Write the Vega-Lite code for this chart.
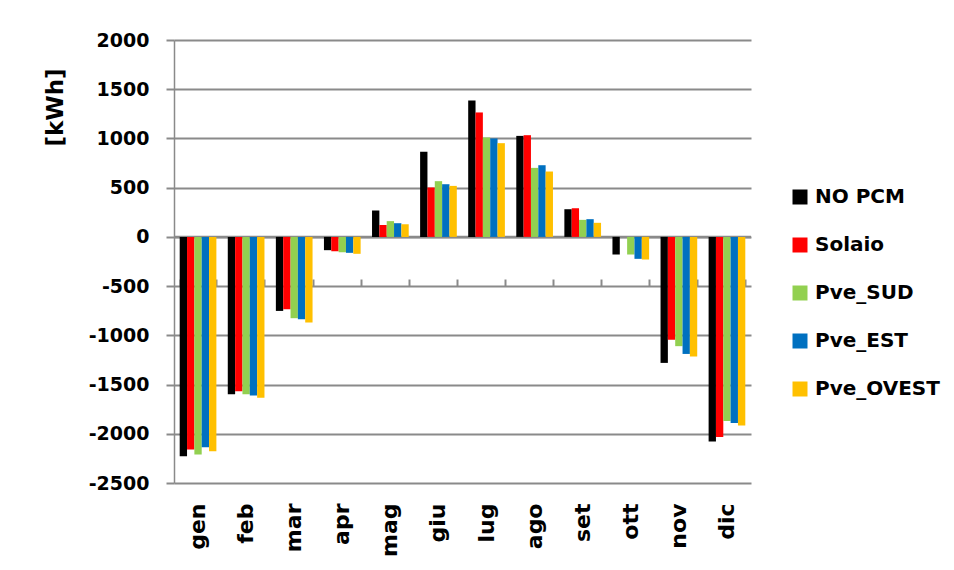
{
  "$schema": "https://vega.github.io/schema/vega-lite/v6.json",
  "width": 577,
  "height": 443,
  "autosize": {"type": "none"},
  "padding": {"left": 174, "top": 40, "right": 203, "bottom": 87},
  "background": "white",
  "config": {"view": {"stroke": null}, "font": "DejaVu Sans"},
  "datasets": {
    "zero": [{"kWh": 0}],
    "energia": [
      {"mese": "gen", "serie": "NO PCM", "kWh": -2228},
      {"mese": "gen", "serie": "Solaio", "kWh": -2160},
      {"mese": "gen", "serie": "Pve_SUD", "kWh": -2211},
      {"mese": "gen", "serie": "Pve_EST", "kWh": -2137},
      {"mese": "gen", "serie": "Pve_OVEST", "kWh": -2177},
      {"mese": "feb", "serie": "NO PCM", "kWh": -1598},
      {"mese": "feb", "serie": "Solaio", "kWh": -1568},
      {"mese": "feb", "serie": "Pve_SUD", "kWh": -1598},
      {"mese": "feb", "serie": "Pve_EST", "kWh": -1612},
      {"mese": "feb", "serie": "Pve_OVEST", "kWh": -1635},
      {"mese": "mar", "serie": "NO PCM", "kWh": -752},
      {"mese": "mar", "serie": "Solaio", "kWh": -735},
      {"mese": "mar", "serie": "Pve_SUD", "kWh": -826},
      {"mese": "mar", "serie": "Pve_EST", "kWh": -836},
      {"mese": "mar", "serie": "Pve_OVEST", "kWh": -870},
      {"mese": "apr", "serie": "NO PCM", "kWh": -135},
      {"mese": "apr", "serie": "Solaio", "kWh": -145},
      {"mese": "apr", "serie": "Pve_SUD", "kWh": -155},
      {"mese": "apr", "serie": "Pve_EST", "kWh": -162},
      {"mese": "apr", "serie": "Pve_OVEST", "kWh": -172},
      {"mese": "mag", "serie": "NO PCM", "kWh": 268},
      {"mese": "mag", "serie": "Solaio", "kWh": 122},
      {"mese": "mag", "serie": "Pve_SUD", "kWh": 160},
      {"mese": "mag", "serie": "Pve_EST", "kWh": 139},
      {"mese": "mag", "serie": "Pve_OVEST", "kWh": 129},
      {"mese": "giu", "serie": "NO PCM", "kWh": 864},
      {"mese": "giu", "serie": "Solaio", "kWh": 502},
      {"mese": "giu", "serie": "Pve_SUD", "kWh": 566},
      {"mese": "giu", "serie": "Pve_EST", "kWh": 535},
      {"mese": "giu", "serie": "Pve_OVEST", "kWh": 518},
      {"mese": "lug", "serie": "NO PCM", "kWh": 1386},
      {"mese": "lug", "serie": "Solaio", "kWh": 1264},
      {"mese": "lug", "serie": "Pve_SUD", "kWh": 1010},
      {"mese": "lug", "serie": "Pve_EST", "kWh": 1000},
      {"mese": "lug", "serie": "Pve_OVEST", "kWh": 952},
      {"mese": "ago", "serie": "NO PCM", "kWh": 1026},
      {"mese": "ago", "serie": "Solaio", "kWh": 1033},
      {"mese": "ago", "serie": "Pve_SUD", "kWh": 701},
      {"mese": "ago", "serie": "Pve_EST", "kWh": 728},
      {"mese": "ago", "serie": "Pve_OVEST", "kWh": 664},
      {"mese": "set", "serie": "NO PCM", "kWh": 281},
      {"mese": "set", "serie": "Solaio", "kWh": 291},
      {"mese": "set", "serie": "Pve_SUD", "kWh": 173},
      {"mese": "set", "serie": "Pve_EST", "kWh": 180},
      {"mese": "set", "serie": "Pve_OVEST", "kWh": 143},
      {"mese": "ott", "serie": "NO PCM", "kWh": -179},
      {"mese": "ott", "serie": "Solaio", "kWh": 0},
      {"mese": "ott", "serie": "Pve_SUD", "kWh": -179},
      {"mese": "ott", "serie": "Pve_EST", "kWh": -223},
      {"mese": "ott", "serie": "Pve_OVEST", "kWh": -230},
      {"mese": "nov", "serie": "NO PCM", "kWh": -1280},
      {"mese": "nov", "serie": "Solaio", "kWh": -1046},
      {"mese": "nov", "serie": "Pve_SUD", "kWh": -1110},
      {"mese": "nov", "serie": "Pve_EST", "kWh": -1189},
      {"mese": "nov", "serie": "Pve_OVEST", "kWh": -1216},
      {"mese": "dic", "serie": "NO PCM", "kWh": -2079},
      {"mese": "dic", "serie": "Solaio", "kWh": -2032},
      {"mese": "dic", "serie": "Pve_SUD", "kWh": -1869},
      {"mese": "dic", "serie": "Pve_EST", "kWh": -1890},
      {"mese": "dic", "serie": "Pve_OVEST", "kWh": -1917}
    ]
  },
  "resolve": {"axis": {"x": "independent"}},
  "layer": [
    {
      "data": {"name": "zero"},
      "mark": {"type": "rule", "color": "#8a8a8a", "strokeWidth": 2.5},
      "encoding": {
        "y": {"field": "kWh", "type": "quantitative", "scale": {"domain": [-2500, 2000], "nice": false, "zero": false}}
      }
    },
    {
      "data": {"name": "energia"},
      "mark": {"type": "bar"},
      "encoding": {
        "x": {
          "field": "mese",
          "type": "nominal",
          "sort": ["gen", "feb", "mar", "apr", "mag", "giu", "lug", "ago", "set", "ott", "nov", "dic"],
          "scale": {"paddingInner": 0.237, "paddingOuter": 0.1185},
          "axis": {
            "title": null,
            "domain": false,
            "ticks": false,
            "labelAngle": -90,
            "labelAlign": "right",
            "labelBaseline": "middle",
            "labelFont": "DejaVu Sans",
            "labelFontWeight": "bold",
            "labelFontSize": 22,
            "labelColor": "black",
            "labelPadding": 20
          }
        },
        "xOffset": {
          "field": "serie",
          "type": "nominal",
          "sort": ["NO PCM", "Solaio", "Pve_SUD", "Pve_EST", "Pve_OVEST"],
          "scale": {"paddingInner": 0, "paddingOuter": 0}
        },
        "y": {
          "field": "kWh",
          "type": "quantitative",
          "axis": {
            "values": [-2500, -2000, -1500, -1000, -500, 0, 500, 1000, 1500, 2000],
            "labelExpr": "'' + datum.value",
            "title": "[kWh]",
            "titleFont": "DejaVu Sans",
            "titleFontWeight": "bold",
            "titleFontSize": 23,
            "titleColor": "black",
            "titleAngle": -90,
            "titleAlign": "center",
            "titleBaseline": "middle",
            "titleX": -119,
            "titleY": 67,
            "domainColor": "#8a8a8a",
            "domainWidth": 1.5,
            "tickColor": "#8a8a8a",
            "tickWidth": 2,
            "tickSize": 8,
            "grid": true,
            "gridColor": "#8a8a8a",
            "gridWidth": 2,
            "labelFont": "DejaVu Sans",
            "labelFontWeight": "bold",
            "labelFontSize": 19,
            "labelColor": "black",
            "labelPadding": 17
          }
        },
        "color": {
          "field": "serie",
          "type": "nominal",
          "sort": ["NO PCM", "Solaio", "Pve_SUD", "Pve_EST", "Pve_OVEST"],
          "scale": {
            "domain": ["NO PCM", "Solaio", "Pve_SUD", "Pve_EST", "Pve_OVEST"],
            "range": ["#000000", "#FF0000", "#92D050", "#0070C0", "#FFC000"]
          },
          "legend": {
            "title": null,
            "orient": "none",
            "legendX": 616,
            "legendY": 147,
            "padding": 0,
            "symbolType": "square",
            "symbolSize": 225,
            "symbolStrokeWidth": 0,
            "labelFont": "DejaVu Sans",
            "labelFontWeight": "bold",
            "labelFontSize": 20,
            "labelColor": "black",
            "labelOffset": 5,
            "rowPadding": 28
          }
        }
      }
    },
    {
      "data": {"name": "energia"},
      "mark": {"type": "rule", "opacity": 0},
      "encoding": {
        "x": {
          "field": "mese",
          "type": "nominal",
          "sort": ["gen", "feb", "mar", "apr", "mag", "giu", "lug", "ago", "set", "ott", "nov", "dic"],
          "axis": {
            "title": null,
            "labels": false,
            "offset": -246,
            "domain": false,
            "ticks": true,
            "tickBand": "extent",
            "tickColor": "#8a8a8a",
            "tickWidth": 2,
            "tickSize": 7
          }
        }
      }
    }
  ]
}
